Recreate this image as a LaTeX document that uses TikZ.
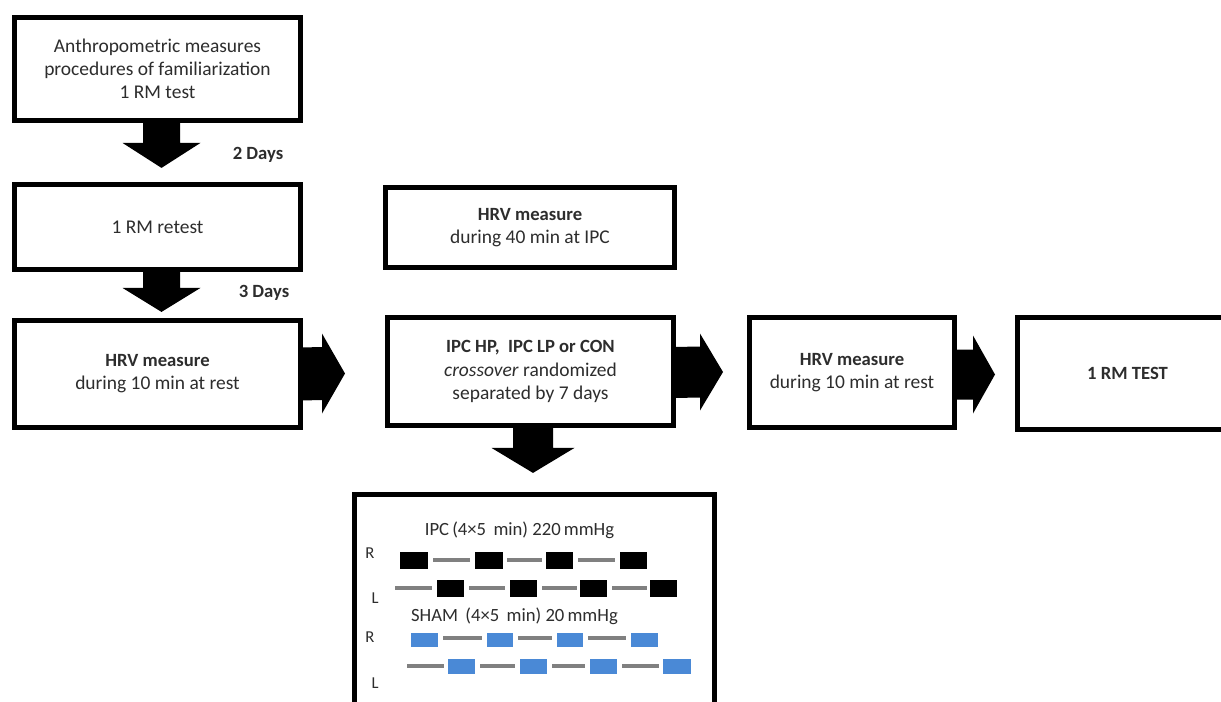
\documentclass[tikz,border=0pt]{standalone}
\usepackage{fontspec}
\setmainfont{Carlito}
\usetikzlibrary{calc}
\definecolor{txt}{RGB}{45,45,45}
\definecolor{shamblue}{RGB}{74,137,214}
\definecolor{bargrey}{RGB}{128,128,128}
% vertical block arrow: #1 start, #2 tip, #3 shaft half width, #4 head half width, #5 head length
\newcommand\downblk[5]{\fill[black] ($(#1)+(-#3,0)$) -- ($(#1)+(#3,0)$) -- ($(#2)+(#3,-#5)$) -- ($(#2)+(#4,-#5)$) -- (#2) -- ($(#2)+(-#4,-#5)$) -- ($(#2)+(-#3,-#5)$) -- cycle;}
% horizontal block arrow
\newcommand\rightblk[5]{\fill[black] ($(#1)+(0,-#3)$) -- ($(#2)+(-#5,-#3)$) -- ($(#2)+(-#5,-#4)$) -- (#2) -- ($(#2)+(-#5,#4)$) -- ($(#2)+(-#5,#3)$) -- ($(#1)+(0,#3)$) -- cycle;}
\begin{document}
\begin{tikzpicture}[x=0.75pt,y=-0.75pt,
  box/.style={draw=black, line width=3.6pt, fill=white, rectangle, inner sep=0pt,
    align=center, text=txt, font=\fontsize{14.6}{17.3}\selectfont},
  lbl/.style={text=txt, inner sep=0pt, font=\fontsize{14}{17}\selectfont},
  side/.style={text=txt, inner sep=0pt, font=\fontsize{12.5}{14}\selectfont},
  blackbar/.style={fill=black},
  bluebar/.style={fill=shamblue},
  greyline/.style={draw=bargrey, line width=3.5pt}]
\useasboundingbox (0,0) rectangle (1221,701);
\clip (0,0) rectangle (1221,701);
\fill[white] (0,0) rectangle (1221,701);

% boxes
\node[box, minimum width=214.5pt, minimum height=77.25pt] (b1) at (157.5,69)
  {Anthropometric measures\\procedures of familiarization\\1 RM test};
\node[box, minimum width=214.5pt, minimum height=63.75pt] (b2) at (157.5,227) {1 RM retest};
\node[box, minimum width=214.5pt, minimum height=80.25pt] (b3) at (157.5,374)
  {\fontsize{14}{17.3}\selectfont\textbf{HRV measure}\\during 10 min at rest};
\node[box, minimum width=216.75pt, minimum height=60pt] (b4) at (530,227.5)
  {\fontsize{14}{17.3}\selectfont\textbf{HRV measure}\\\fontsize{14.6}{17.3}\selectfont during 40 min at IPC};
\node[box, minimum width=214.5pt, minimum height=81pt] (b5) at (530.5,371.5)
  {\fontsize{14}{17.3}\selectfont\textbf{IPC HP,\ \ IPC LP or CON}\\\fontsize{14.6}{17.3}\selectfont\textit{crossover} randomized\\separated by 7 days};
\node[box, minimum width=153.75pt, minimum height=82.5pt] (b6) at (852,372.5)
  {\fontsize{14}{17.3}\selectfont\textbf{HRV measure}\\\fontsize{14.6}{17.3}\selectfont during 10 min at rest};
\node[box, minimum width=165pt, minimum height=84pt] (b7) at (1127.5,373.5) {\fontsize{14}{17}\selectfont\textbf{1 RM TEST}};
\node[box, minimum width=270pt, minimum height=197.25pt] (b8) at (534.5,626) {};

% day labels
\node[lbl, font=\fontsize{14}{17}\bfseries] (d2) at (258,155) {2 Days};
\node[lbl, font=\fontsize{14}{17}\bfseries] (d3) at (264,293) {3 Days};

% block arrows
\coordinate (a1s) at ($(b1.south)+(4,-2)$);
\coordinate (a1t) at ($(a1s)+(0,47)$);
\downblk{a1s}{a1t}{18.5}{39}{25}
\coordinate (a2s) at ($(b2.south)+(4,-2)$);
\coordinate (a2t) at ($(a2s)+(0,42)$);
\downblk{a2s}{a2t}{18.5}{39}{24}
\coordinate (a3s) at ($(b3.east)+(-2,0)$);
\coordinate (a3t) at (345,373.5);
\rightblk{a3s}{a3t}{26.5}{40}{23}
\coordinate (a4s) at ($(b5.east)+(-2,1)$);
\coordinate (a4t) at (723,372);
\rightblk{a4s}{a4t}{25.5}{38.5}{23}
\coordinate (a5s) at ($(b6.east)+(-2,2)$);
\coordinate (a5t) at (995,374.5);
\rightblk{a5s}{a5t}{25}{39}{22}
\coordinate (a6s) at ($(b5.south)+(2.5,-2)$);
\coordinate (a6t) at ($(a6s)+(0,47)$);
\downblk{a6s}{a6t}{20}{41.5}{25}

% inside bottom box
\node[lbl] (ipc) at (519.5,530) {IPC\,(4×5\, min) 220\,mmHg};
\node[lbl] (sham) at (514.5,616) {SHAM \,(4×5 \,min) 20\,mmHg};
\node[side] (r1) at (370,553) {R};
\node[side] (l1) at (375,598) {L};
\node[side] (r2) at (370,637) {R};
\node[side] (l2) at (375,683) {L};

% IPC right
\foreach \a/\b in {400/428,475/503,546/573,620/647}
  \fill[blackbar] (\a,552) rectangle (\b,569);
\foreach \a/\b in {433/470,507/542,578/615}
  \draw[greyline] (\a,560) -- (\b,560);
% IPC left
\foreach \a/\b in {437/464,510/537,580/607,650/677}
  \fill[blackbar] (\a,580) rectangle (\b,597);
\foreach \a/\b in {395/432,469/505,542/577,612/647}
  \draw[greyline] (\a,588) -- (\b,588);
% SHAM right
\foreach \a/\b in {411/438,487/513,557/583,631/658}
  \fill[bluebar] (\a,633) rectangle (\b,647);
\foreach \a/\b in {443/482,518/552,588/626}
  \draw[greyline] (\a,638) -- (\b,638);
% SHAM left
\foreach \a/\b in {448/475,520/547,590/617,663/691}
  \fill[bluebar] (\a,659) rectangle (\b,674);
\foreach \a/\b in {407/444,480/515,552/585,622/659}
  \draw[greyline] (\a,666) -- (\b,666);
\end{tikzpicture}
\end{document}
